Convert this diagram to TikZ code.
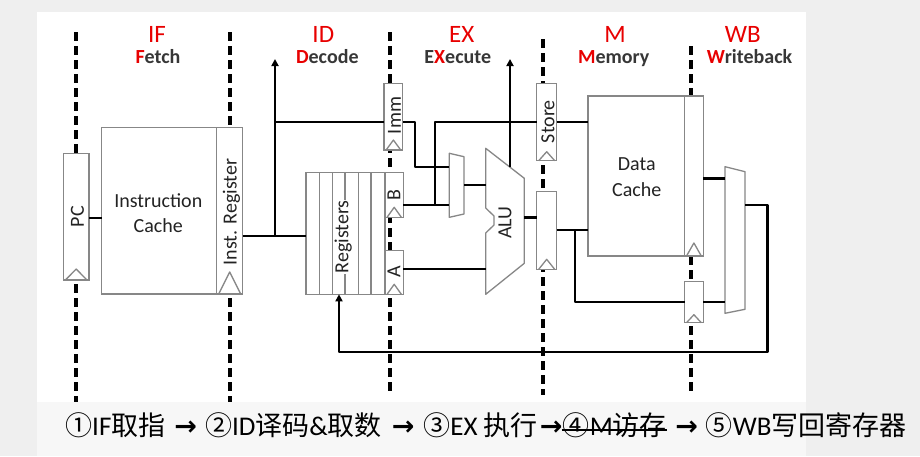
\documentclass[tikz,border=0pt]{standalone}
\usepackage{fontspec}
\setmainfont{Carlito}
\newfontfamily\cjk{Noto Sans CJK SC}
\newfontfamily\arr{DejaVu Sans}
\usetikzlibrary{arrows.meta}
\definecolor{bgg}{RGB}{239,239,239}
\definecolor{bgb}{RGB}{247,247,247}
\definecolor{boxc}{RGB}{135,135,135}
\definecolor{txt}{RGB}{35,35,35}
\definecolor{subc}{RGB}{55,55,55}
\definecolor{myred}{RGB}{232,0,0}
\newcommand\zh[1]{{\cjk #1}}
\newcommand\rarr{{\arr\bfseries →}}
\newcommand\myclk[2]{\draw[boxline] ([xshift=2pt]#1.south west) -- ([yshift=#2]#1.south) -- ([xshift=-2pt]#1.south east);}
\begin{document}
\begin{tikzpicture}[x=1pt,y=-1pt,
  box/.style={draw=boxc, line width=1.3pt, fill=white, inner sep=0pt, outer sep=0pt},
  boxline/.style={draw=boxc, line width=1.3pt, line join=round},
  wire/.style={draw=black, line width=2.4pt, line join=round},
  pipe/.style={draw=black, line width=4pt, dash pattern=on 9pt off 5pt},
  tipped/.style={-{Triangle[length=7pt,width=7pt]}},
  lbl/.style={font=\fontsize{20}{25.5}\selectfont, text=txt, inner sep=0.5pt, align=center},
  stagename/.style={font=\fontsize{25}{30}\selectfont, text=myred, anchor=base, inner sep=0pt},
  subname/.style={font=\bfseries\fontsize{20}{24}\selectfont, text=subc, anchor=base, inner sep=0pt},
  caption/.style={anchor=base west, inner sep=0pt, font=\fontsize{27}{32}\selectfont, text=black}
]
\useasboundingbox (0,0) rectangle (920,456);
% background
\fill[bgg] (0,0) rectangle (920,456);
\fill[white] (37,12) rectangle (806,402);
\fill[bgb] (37,402) rectangle (806,456);

% pipeline boundaries
\coordinate (d1t) at (76,32);   \coordinate (d1b) at (76,402);
\coordinate (d2t) at (230,32);  \coordinate (d2b) at (230,402);
\coordinate (d3t) at (390,32);  \coordinate (d3b) at (390,392);
\coordinate (d4t) at (543.3,39);  \coordinate (d4b) at (543.3,395);
\coordinate (d5t) at (691,46);  \coordinate (d5b) at (691,395);
\foreach \a in {1,...,5} \draw[pipe] (d\a t) -- (d\a b);

% stage labels
\node[stagename] (nIF) at (157,42) {IF};
\node[subname] (sIF) at (158,63) {\textcolor{myred}{F}etch};
\node[stagename] (nID) at (323.3,42) {ID};
\node[subname] (sID) at (327.3,63) {\textcolor{myred}{D}ecode};
\node[stagename] (nEX) at (461.7,42) {EX};
\node[subname] (sEX) at (457.8,63) {E\textcolor{myred}{X}ecute};
\node[stagename] (nM) at (615,42) {M};
\node[subname] (sM) at (613.7,63) {\textcolor{myred}{M}emory};
\node[stagename] (nWB) at (742.7,42) {WB};
\node[subname] (sWB) at (749.5,63) {\textcolor{myred}{W}riteback};

% boxes
\node[box, minimum width=25.7pt, minimum height=126.7pt] (PC) at (76.2,216.7) {};
\node[box, minimum width=115pt, minimum height=166.3pt] (IC) at (159.2,210.8) {};
\node[box, minimum width=26pt, minimum height=166.3pt] (IR) at (229.7,210.8) {};
\node[box, minimum width=79pt, minimum height=121.6pt] (RF) at (345.5,233.5) {};
\foreach \xx in {319.3,332.7,345,358.3,371} \draw[boxline] (\xx,172.7) -- (\xx,294.3);
\node[box, minimum width=18.3pt, minimum height=44.6pt] (RB) at (394.2,195) {};
\node[box, minimum width=18.3pt, minimum height=43.6pt] (RA) at (394.2,272.5) {};
\node[box, minimum width=18.7pt, minimum height=66.7pt] (IMM) at (393.4,116.7) {};
\node[box, minimum width=20pt, minimum height=77.4pt] (ST) at (546.7,122) {};
\node[box, minimum width=20pt, minimum height=77.6pt] (EXM) at (546.7,230.5) {};
\node[box, minimum width=96.5pt, minimum height=160pt] (DC) at (636.2,176) {};
\node[box, minimum width=18.8pt, minimum height=160pt] (WB1) at (693.9,176) {};
\node[box, minimum width=18.8pt, minimum height=41pt] (WB2) at (693.9,302.2) {};

% clocks
\myclk{PC}{11pt}
\myclk{IR}{22pt}
\myclk{RB}{10pt}
\myclk{RA}{10pt}
\myclk{IMM}{10pt}
\myclk{ST}{9pt}
\myclk{EXM}{10pt}
\myclk{WB1}{13pt}
\myclk{WB2}{8pt}

% muxes and ALU
\draw[boxline, fill=white] (449.3,153.3) -- (464,156.7) -- (464,214) -- (449.3,217.3) -- cycle;
\draw[boxline, fill=white] (485.7,148.3) -- (524.3,178.3) -- (524.3,263.3) -- (485.7,294.3) -- (485.7,233) -- (494,225) -- (494,216) -- (485.7,208) -- cycle;
\draw[boxline, fill=white] (725,166.7) -- (745,171.7) -- (745,309.3) -- (725,313.3) -- cycle;

% labels
\node[lbl, rotate=90] (lPC) at (77.5,216.7) {PC};
\node[lbl] (lIC) at (158.3,213) {Instruction\\Cache};
\node[lbl, rotate=90] (lIR) at (231.5,212) {Inst. Register};
\node[lbl, rotate=90, fill=white] (lRF) at (343.3,236.7) {Registers};
\node[lbl, rotate=90] (lB) at (394,195) {B};
\node[lbl, rotate=90] (lA) at (394,271.7) {A};
\node[lbl, rotate=90] (lIMM) at (394.5,115.5) {Imm};
\node[lbl, rotate=90] (lST) at (548,121.7) {Store};
\node[lbl, rotate=90] (lALU) at (505,222.5) {ALU};
\node[lbl] (lDC) at (636.7,177) {Data\\Cache};

% junction coordinates
\coordinate (j1) at (275,236);
\coordinate (up1) at (275,59);
\coordinate (j2) at (275,121.7);
\coordinate (i1) at (415,121.7);
\coordinate (i2) at (415,166.7);
\coordinate (m1a) at (449.3,166.7);
\coordinate (m1b) at (449.3,205);
\coordinate (b1) at (435,205);
\coordinate (b2) at (435,121.7);
\coordinate (m1o) at (464,185);
\coordinate (alul) at (485.7,185);
\coordinate (alua) at (485.7,269);
\coordinate (alutop) at (510,167.3);
\coordinate (up2) at (510,59);
\coordinate (aluo) at (524.3,217.5);
\coordinate (e1) at (575,230);
\coordinate (e2) at (575,301.7);
\coordinate (m2a) at (725,178.3);
\coordinate (m2b) at (725,301.7);
\coordinate (m2o) at (745,205);
\coordinate (f1) at (767.3,205);
\coordinate (f2) at (767.3,351.7);
\coordinate (f3) at (339,351.7);
\coordinate (f4) at (339,294.3);

% wires
\draw[wire] (PC.east |- 0,217.7) -- (IC.west |- 0,217.7);
\draw[wire] (IR.east |- j1) -- (RF.west |- j1);
\draw[wire, tipped] (j1) -- (up1);
\draw[wire] (j2) -- (IMM.west |- j2);
\draw[wire] (IMM.east |- i1) -- (i1) -- (i2) -- (m1a);
\draw[wire] (RB.east |- b1) -- (m1b);
\draw[wire] (b1) -- (b2) -- (ST.west |- b2);
\draw[wire] (ST.east |- b2) -- (DC.west |- b2);
\draw[wire] (m1o) -- (alul);
\draw[wire] (RA.east |- alua) -- (alua);
\draw[wire, tipped] (alutop) -- (up2);
\draw[wire] (aluo) -- (EXM.west |- aluo);
\draw[wire] (EXM.east |- e1) -- (DC.west |- e1);
\draw[wire] (e1) -- (e2) -- (WB2.west |- e2);
\draw[wire] (WB1.east |- m2a) -- (m2a);
\draw[wire] (WB2.east |- m2b) -- (m2b);
\draw[wire, tipped] (m2o) -- (f1) -- (f2) -- (f3) -- (f4);

% bottom caption
\node[caption] (t1) at (65,435)
  {\zh{①}IF\zh{取指}\hspace{9pt}\rarr\hspace{8pt}\zh{②}ID\zh{译码}\&\zh{取数}\hspace{10pt}\rarr\hspace{9pt}\zh{③}EX \zh{执行}\hspace{2pt}\rarr\hspace{9pt}};
\node[caption] (t2) at (t1.base east)
  {\zh{④}M\zh{访存}};
\node[caption] (t3) at (t2.base east)
  {\hspace{8pt}\rarr\hspace{8pt}\zh{⑤}WB\zh{写回寄存器}};
\draw[line width=1.6pt] ([xshift=-1pt,yshift=5pt]t2.base west) -- ([yshift=5pt]t2.base east);
\end{tikzpicture}
\end{document}
